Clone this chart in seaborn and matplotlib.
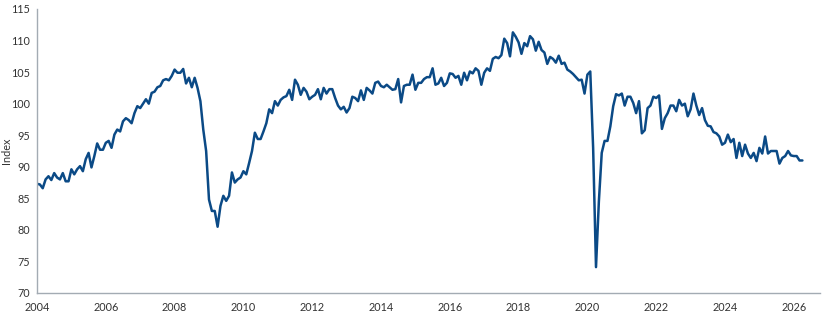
import numpy as np
import pandas as pd
import matplotlib
matplotlib.use("Agg")
import matplotlib.pyplot as plt
import seaborn as sns

# Monthly index values, Jan 2004 .. Apr 2026
v2004 = [87.3, 87.2, 86.6, 88.0, 88.5, 87.9, 89.0, 88.3, 88.0, 89.0, 87.7, 87.7]
v2005 = [89.6, 88.8, 89.6, 90.1, 89.3, 91.2, 92.2, 89.9, 91.7, 93.7, 92.7, 92.7]
v2006 = [93.8, 94.1, 93.0, 95.1, 95.9, 95.6, 97.2, 97.7, 97.4, 96.9, 98.5, 99.6]
v2007 = [99.3, 100.0, 100.7, 100.0, 101.7, 101.9, 102.6, 102.8, 103.7, 103.9, 103.7, 104.4]
v2008 = [105.4, 104.9, 104.9, 105.5, 103.2, 104.1, 102.6, 104.1, 102.5, 100.4, 95.9, 92.5]
v2009 = [84.8, 83.0, 83.0, 80.5, 83.8, 85.4, 84.6, 85.4, 89.1, 87.5, 88.0, 88.3]
v2010 = [89.3, 88.8, 90.6, 92.5, 95.4, 94.4, 94.4, 95.6, 96.9, 99.1, 98.5, 100.4]
v2011 = [99.7, 100.6, 101.0, 101.2, 102.2, 100.6, 103.8, 103.0, 101.4, 102.5, 101.9, 100.7]
v2012 = [101.1, 101.4, 102.3, 100.7, 102.5, 101.6, 102.3, 102.3, 100.9, 99.7, 99.1, 99.5]
v2013 = [98.6, 99.3, 101.1, 100.9, 100.4, 102.1, 100.6, 102.5, 102.1, 101.6, 103.3, 103.5]
v2014 = [102.8, 102.6, 103.0, 102.6, 102.2, 102.3, 103.9, 100.2, 102.8, 103.0, 103.0, 104.6]
v2015 = [102.2, 103.3, 103.3, 103.9, 104.2, 104.2, 105.6, 103.0, 103.2, 104.1, 102.8, 103.3]
v2016 = [104.8, 104.7, 104.1, 104.4, 103.0, 104.9, 103.7, 105.1, 104.8, 105.6, 105.2, 103.0]
v2017 = [104.9, 105.6, 105.2, 107.1, 107.4, 107.2, 107.7, 110.3, 109.6, 107.5, 111.3, 110.6]
v2018 = [109.7, 107.9, 109.6, 109.1, 110.7, 110.2, 108.4, 109.8, 108.5, 108.1, 106.3, 107.4]
v2019 = [107.1, 106.5, 107.6, 106.3, 106.5, 105.4, 105.1, 104.7, 104.2, 103.7, 103.8, 101.6]
v2020 = [104.6, 105.1, 93.0, 74.1, 84.5, 92.2, 94.1, 94.1, 96.4, 99.6, 101.5, 101.3]
v2021 = [101.6, 99.7, 101.1, 101.1, 100.1, 98.5, 100.4, 95.3, 95.8, 99.3, 99.7, 101.1]
v2022 = [100.9, 101.3, 96.0, 97.7, 98.5, 99.7, 99.7, 98.8, 100.6, 99.7, 100.0, 98.0]
v2023 = [99.1, 101.6, 99.7, 98.2, 99.3, 97.4, 96.5, 96.4, 95.5, 95.3, 94.8, 93.5]
v2024 = [93.8, 95.1, 93.9, 94.4, 91.4, 93.8, 91.7, 93.5, 92.1, 91.4, 92.2, 90.9]
v2025 = [93.0, 92.1, 94.8, 92.1, 92.5, 92.5, 92.5, 90.5, 91.4, 91.7, 92.5, 91.8]
v2026 = [91.7, 91.7, 91.0, 91.0]

years = list(range(2004, 2027))
yearly = [v2004, v2005, v2006, v2007, v2008, v2009, v2010, v2011, v2012, v2013,
          v2014, v2015, v2016, v2017, v2018, v2019, v2020, v2021, v2022, v2023,
          v2024, v2025, v2026]

rows = []
for yr, vals in zip(years, yearly):
    for mi, val in enumerate(vals):
        rows.append({"t": yr + mi / 12.0, "Index": val})
df = pd.DataFrame(rows)

x_ticks = list(range(2004, 2027, 2))
y_ticks = list(range(70, 116, 5))

sns.set_theme(style="white")
plt.rcParams["font.family"] = ["Lato", "DejaVu Sans"]

fig = plt.figure(figsize=(8.3, 3.22), dpi=100)
ax = fig.add_axes([37 / 830, 1 - 293 / 322, (820 - 37) / 830, (293 - 9) / 322])

sns.lineplot(data=df, x="t", y="Index", ax=ax, color="#0b4a86", linewidth=1.8)

ax.set_xlim(2004, 2004 + (820 - 37) / 34.4)
ax.set_ylim(70, 115)
ax.set_xticks(x_ticks)
ax.set_xticklabels([str(t) for t in x_ticks])
ax.set_yticks(y_ticks)
ax.set_yticklabels([str(t) for t in y_ticks])
ax.set_xlabel("")
ax.set_ylabel("Index", fontsize=7.8, color="#333333")
ax.yaxis.set_label_coords((12 - 37) / 783, 0.5)

ax.tick_params(axis="both", which="both", length=0, labelsize=7.8, colors="#333333")
ax.tick_params(axis="x", pad=6.5)
ax.tick_params(axis="y", pad=5)

for s in ["top", "right"]:
    ax.spines[s].set_visible(False)
for s in ["left", "bottom"]:
    ax.spines[s].set_color("#a3abb3")
    ax.spines[s].set_linewidth(1.0)
ax.grid(False)

fig.savefig("out.png", dpi=100)
